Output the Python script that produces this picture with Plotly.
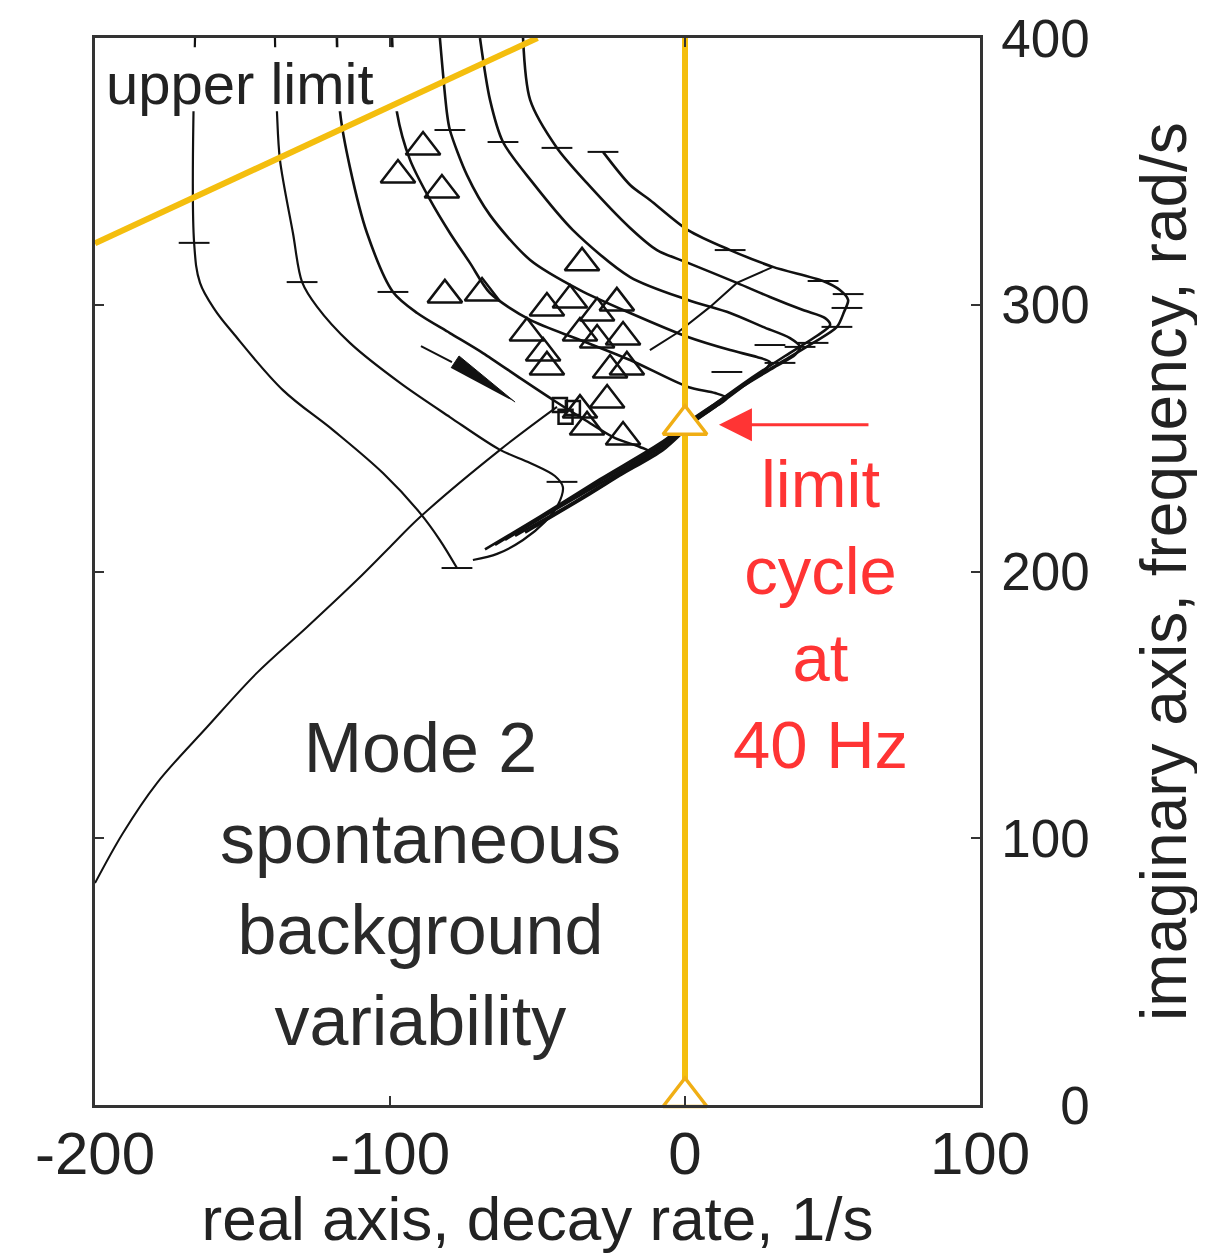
import plotly.graph_objects as go

# ---------------- data (real axis = decay rate 1/s, imaginary axis = rad/s) ----------------
A_x = [-166.1, -166.4, -164.4, -159.3, -153.2, -136.3, -119.3, -102.4, -89.8, -83.1, -77.3]
A_y = [400, 323.2, 308.2, 298.0, 289.4, 268.0, 253.0, 236.9, 221.9, 211.8, 201.3]

B_x = [-139.0, -138.3, -137.3, -132.9, -129.8, -124.7, -113.6, -96.6, -79.7, -62.7, -52.5, -44.1, -41.4, -43.1, -47.5, -54.9, -63.7, -71.9]
B_y = [400, 371.9, 354.3, 326.9, 308.5, 299.2, 285.7, 270.7, 257.9, 245.6, 240.7, 235.8, 231.7, 224.9, 218.6, 211.8, 206.6, 204.3]

C_x = [-118.0, -116.9, -113.6, -107.8, -99.0, -90.8, -79.7, -68.5, -55.9, -44.7, -33.9, -23.7, -15.3, -11.9, -15.3, -28.8, -42.4, -50.8]
C_y = [400, 371.9, 351.6, 326.9, 304.8, 296.9, 289.4, 281.9, 272.5, 264.3, 256.8, 250.0, 246.7, 244.8, 241.4, 231.6, 222.6, 216.8]

D_x = [-99.3, -97.6, -93.2, -86.4, -79.7, -72.9, -66.1, -52.5, -35.6, -18.6, 1.0, 10.2, 14.2, 11.2, 5.1, 1.0, -7.5, -22.0, -32.2, -54.2]
D_y = [400, 371.9, 354.3, 339.3, 326.9, 315.7, 304.4, 294.3, 286.8, 279.3, 269.2, 266.9, 265.0, 262.4, 257.9, 254.0, 245.5, 236.0, 229.0, 214.6]

E_x = [-83.1, -80.7, -79.7, -73.9, -66.1, -52.5, -35.6, -18.6, 1.0, 15.3, 24.4, 28.8, 27.1, 20.3, 10.2, 1.0, -7.5, -25.4, -37.3, -57.6]
E_y = [400, 371.9, 365.5, 348.6, 333.6, 316.8, 305.5, 296.9, 287.9, 283.0, 280.4, 278.5, 275.5, 269.9, 261.7, 254.5, 246.4, 234.3, 226.2, 213.4]

F_x = [-69.5, -66.1, -61.7, -51.5, -38.0, -18.6, 1.0, 15.3, 26.4, 35.6, 39.0, 37.3, 30.5, 20.3, 9.5, 1.0, -7.5, -28.8, -42.4, -61.0]
F_y = [400, 376.8, 361.0, 345.6, 328.0, 310.4, 301.8, 296.9, 291.7, 287.5, 284.2, 281.2, 276.7, 269.9, 261.7, 255.0, 247.3, 232.9, 224.2, 211.9]

G_x = [-54.9, -52.5, -43.4, -33.2, -18.6, -9.5, 1.0, 17.6, 28.8, 40.0, 47.5, 49.2, 44.1, 33.9, 21.0, 9.5, 1.0, -7.5, -28.8, -45.8, -64.4]
G_y = [400, 376.8, 358.8, 345.6, 328.8, 320.5, 315.7, 308.2, 302.9, 298.0, 295.0, 292.4, 287.9, 280.8, 271.4, 262.3, 255.6, 248.0, 233.8, 222.4, 210.0]

H_x = [-27.8, -18.6, -11.9, 1.0, 15.3, 29.8, 46.8, 52.5, 55.3, 53.9, 51.5, 43.4, 32.2, 21.0, 9.5, 1.0, -7.5, -28.8, -49.2, -67.8]
H_y = [357.3, 344.9, 339.3, 328.0, 320.5, 314.2, 308.9, 305.5, 301.8, 297.3, 291.7, 285.7, 278.2, 270.7, 262.4, 256.0, 248.8, 234.6, 220.6, 208.3]

# long branch from lower left
L_x = [-200.0, -190.5, -179.0, -162.0, -145.1, -128.1, -111.2, -100.0, -89.8, -62.7, -43.4]
L_y = [83.2, 102.0, 120.7, 141.7, 162.0, 179.2, 196.8, 209.2, 220.4, 245.6, 261.7]

# constant-gain cross line in the nose region
K_x = [29.8, 17.6, 8.5, -2.7, -11.9]
K_y = [314.2, 308.2, 299.2, 289.4, 283.0]

# tick marks on the loci
tick_x = [-166.4, -77.3, -129.8, -41.7, -99.0, -79.7, -61.7, -43.4, -27.8, 55.3, 54.9, 51.5, 43.4, 39.0, 28.8, 14.2, 32.2, 46.8, 15.3]
tick_y = [323.2, 201.3, 308.5, 233.6, 304.8, 365.5, 361.0, 358.8, 357.3, 304.0, 298.8, 291.7, 285.7, 284.2, 284.9, 274.8, 278.2, 308.9, 320.5]

# measured data points (open triangles)
tri_x = [-97.3, -88.8, -82.4, -81.4, -68.8, -34.9, -46.8, -39.0, -53.6, -48.1, -46.8, -29.8, -23.1, -35.6,
         -29.8, -21.0, -19.7, -25.4, -26.4, -33.2, -21.0, -35.6]
tri_y = [348.6, 359.1, 343.0, 303.7, 304.4, 315.7, 298.8, 301.8, 289.4, 281.9, 276.7, 296.9, 300.7, 289.4,
         286.8, 287.9, 276.7, 275.5, 264.3, 254.2, 250.4, 260.5]
sq_x = [-42.4, -38.0, -40.5]
sq_y = [262.4, 261.3, 258.0]

# direction arrow (thin lead + filled wedge)
arrow_lead_x = [-89.5, -79.0]
arrow_lead_y = [284.5, 278.5]
wedge_x = [-79.3, -76.6, -57.6]
wedge_y = [276.3, 280.8, 263.5]

# highlighted lines / points
upper_limit_x = [-200, -50]
upper_limit_y = [323, 400]
zero_axis_x = [0, 0]
zero_axis_y = [0, 400]
limit_pts_x = [0, 0]
limit_pts_y = [255, 3]

# area under the "upper limit" label
mask_x = [-197.5, -95.5, -95.5, -197.5, -197.5]
mask_y = [372.5, 372.5, 396.5, 396.5, 372.5]

x_ticks = [-200, -100, 0, 100]
x_ticktext = ["-200", "-100", "0", "100"]
y_ticks = [0, 100, 200, 300, 400]
y_ticktext = ["\u2007\u20070", "100", "200", "300", "400"]

BLACK = "#111111"
GOLD = "#F4BE0E"
TRI_GOLD = "#F0AE14"
RED = "#FF3434"
FONT = "Liberation Sans, Arial, Helvetica, sans-serif"

fig = go.Figure()

def add_curve(x, y, width=2.0, smoothing=1.0):
    fig.add_trace(go.Scatter(x=x, y=y, mode="lines",
                             line=dict(color=BLACK, width=width, shape="spline", smoothing=smoothing),
                             hoverinfo="skip", showlegend=False))

add_curve(A_x, A_y, 2.2, 1.0)
add_curve(B_x, B_y, 2.2, 0.9)
for cx, cy in [(C_x, C_y), (D_x, D_y), (E_x, E_y), (F_x, F_y), (G_x, G_y), (H_x, H_y)]:
    add_curve(cx, cy, 2.6, 0.8)
add_curve(L_x, L_y, 2.0, 1.0)
fig.add_trace(go.Scatter(x=K_x, y=K_y, mode="lines", line=dict(color=BLACK, width=2),
                         hoverinfo="skip", showlegend=False))

fig.add_trace(go.Scatter(x=tick_x, y=tick_y, mode="markers",
                         marker=dict(symbol="line-ew", size=22, line=dict(color=BLACK, width=2)),
                         hoverinfo="skip", showlegend=False))

fig.add_trace(go.Scatter(x=arrow_lead_x, y=arrow_lead_y, mode="lines",
                         line=dict(color=BLACK, width=2), hoverinfo="skip", showlegend=False))
fig.add_trace(go.Scatter(x=wedge_x, y=wedge_y, mode="lines", fill="toself",
                         fillcolor=BLACK, line=dict(color=BLACK, width=1),
                         hoverinfo="skip", showlegend=False))

fig.add_trace(go.Scatter(x=tri_x, y=tri_y, mode="markers",
                         marker=dict(symbol="triangle-up-open", size=30, color=BLACK,
                                     line=dict(color=BLACK, width=2.5)),
                         hoverinfo="skip", showlegend=False))
fig.add_trace(go.Scatter(x=sq_x, y=sq_y, mode="markers",
                         marker=dict(symbol="square-open", size=14, color=BLACK,
                                     line=dict(color=BLACK, width=2.5)),
                         hoverinfo="skip", showlegend=False))

fig.add_trace(go.Scatter(x=mask_x, y=mask_y, mode="lines", fill="toself",
                         fillcolor="white", line=dict(width=0, color="white"),
                         hoverinfo="skip", showlegend=False))

fig.add_trace(go.Scatter(x=upper_limit_x, y=upper_limit_y, mode="lines",
                         line=dict(color=GOLD, width=6), hoverinfo="skip", showlegend=False))
fig.add_trace(go.Scatter(x=zero_axis_x, y=zero_axis_y, mode="lines",
                         line=dict(color=GOLD, width=6), hoverinfo="skip", showlegend=False))
fig.add_trace(go.Scatter(x=limit_pts_x, y=limit_pts_y, mode="markers", cliponaxis=False,
                         marker=dict(symbol="triangle-up", size=38, color="white",
                                     line=dict(color=TRI_GOLD, width=3.5)),
                         hoverinfo="skip", showlegend=False))

fig.add_annotation(x=-196.8, y=383, xref="x", yref="y", text="upper limit",
                   showarrow=False, xanchor="left", yanchor="middle",
                   font=dict(family=FONT, size=58, color="#222222"))
fig.add_annotation(x=-89.5, y=82.5, xref="x", yref="y",
                   text="Mode 2<br>spontaneous<br>background<br>variability",
                   showarrow=False, xanchor="center", yanchor="middle", align="center",
                   font=dict(family=FONT, size=70, color="#2a2a2a"))
fig.add_annotation(x=46, y=184, xref="x", yref="y",
                   text="limit<br>cycle<br>at<br>40 Hz",
                   showarrow=False, xanchor="center", yanchor="middle", align="center",
                   font=dict(family=FONT, size=67, color=RED))
fig.add_annotation(x=11.5, y=255, ax=62.7, ay=255, xref="x", yref="y", axref="x", ayref="y",
                   text="", showarrow=True, arrowhead=2, arrowsize=2.2, arrowwidth=3,
                   arrowcolor=RED)

# the page adds an 8 px body margin: figure is 8 px smaller, margins shifted accordingly
fig.update_layout(
    width=1197, height=1245,
    margin=dict(l=87, r=225, t=30, b=148),
    paper_bgcolor="white", plot_bgcolor="white",
    showlegend=False,
    font=dict(family=FONT, color="#222222"),
    xaxis=dict(range=[-200, 100], tickvals=x_ticks, ticktext=x_ticktext, automargin=False,
               ticks="inside", ticklen=9, tickwidth=2, tickcolor="#333333",
               showline=True, linecolor="#333333", linewidth=2.5, mirror="allticks",
               showgrid=False, zeroline=False, ticklabeloverflow="allow",
               tickfont=dict(family=FONT, size=60, color="#222222"),
               ticklabelstandoff=-6,
               title=dict(text="real axis, decay rate, 1/s",
                          font=dict(family=FONT, size=62, color="#222222"), standoff=16)),
    yaxis=dict(range=[0, 400], side="right", tickvals=y_ticks, ticktext=y_ticktext, automargin=False,
               ticks="inside", ticklen=9, tickwidth=2, tickcolor="#333333",
               showline=True, linecolor="#333333", linewidth=2.5, mirror="allticks",
               showgrid=False, zeroline=False, ticklabeloverflow="allow",
               tickfont=dict(family=FONT, size=53, color="#222222"),
               ticklabelstandoff=8,
               title=dict(text="imaginary axis, frequency, rad/s",
                          font=dict(family=FONT, size=64, color="#222222"), standoff=53)),
)

fig.write_html("out.html")
